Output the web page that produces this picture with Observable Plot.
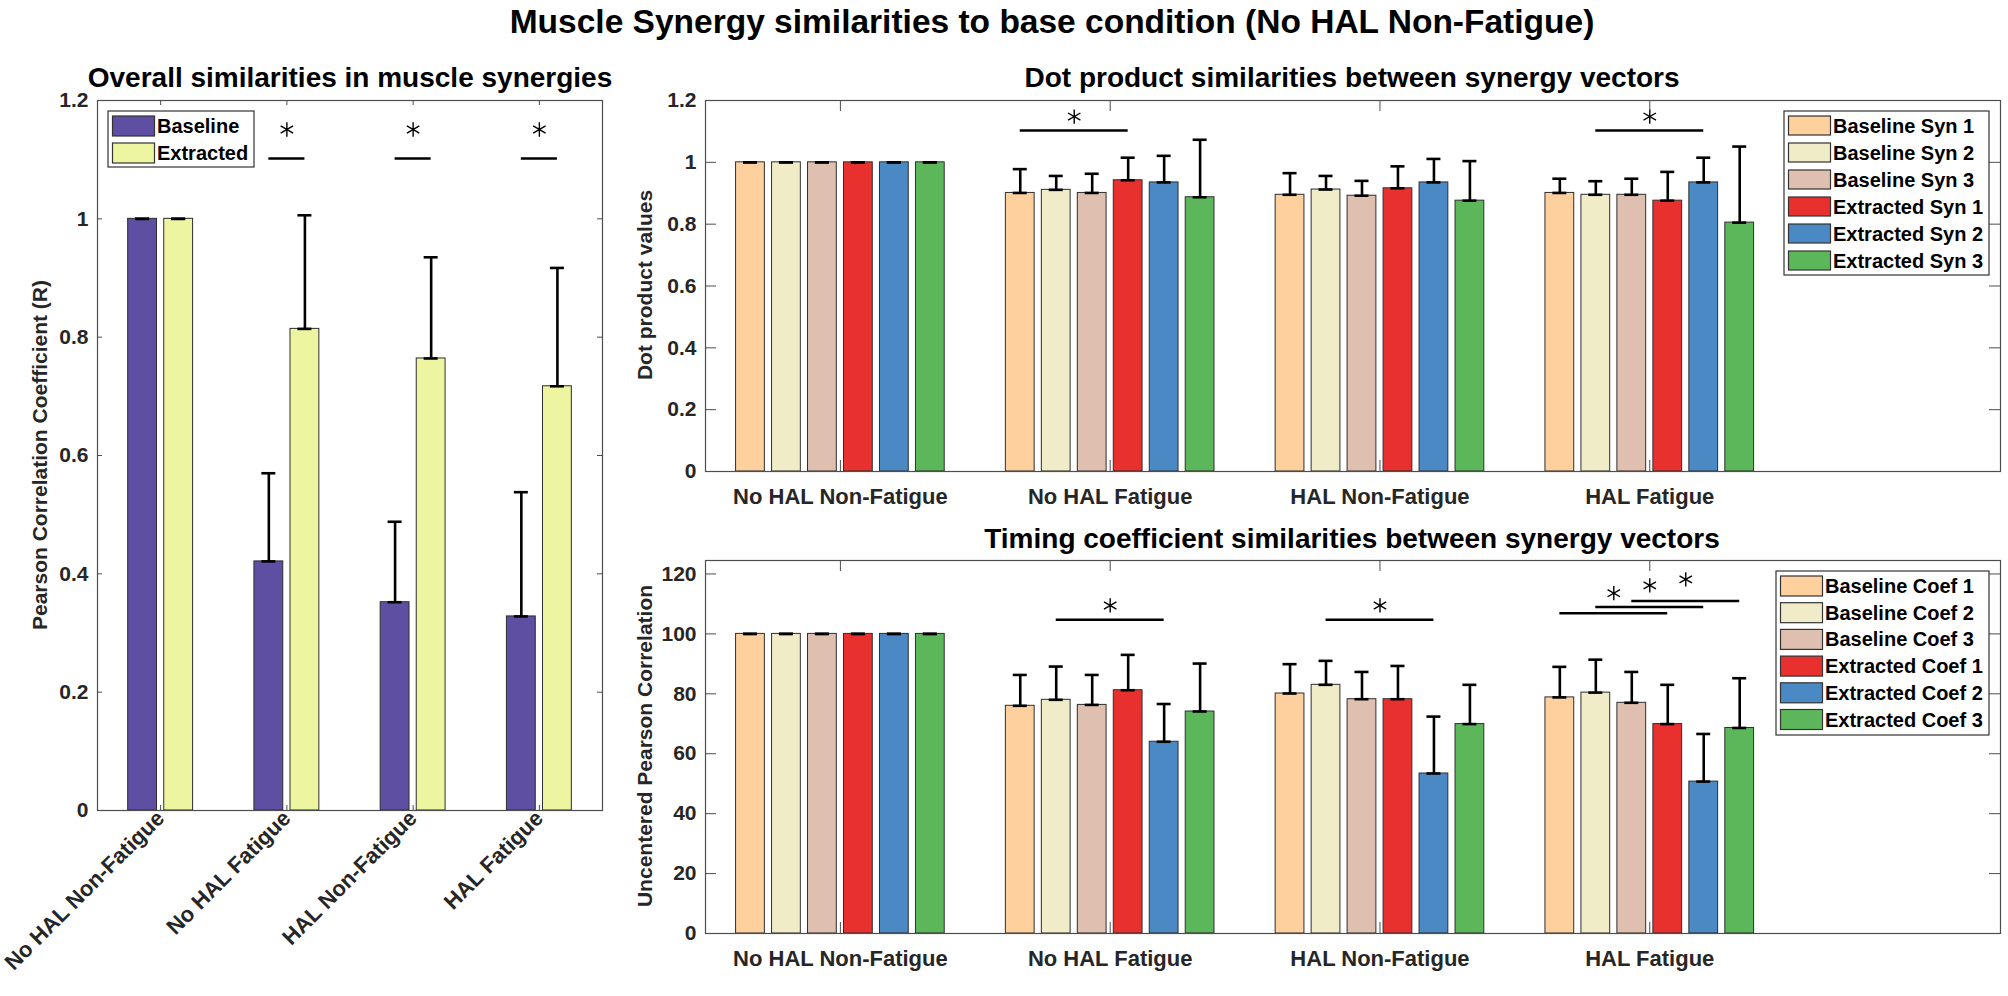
<!DOCTYPE html>
<html>
<head>
<meta charset="utf-8">
<script src="https://cdn.jsdelivr.net/npm/d3@7"></script>
<script src="https://cdn.jsdelivr.net/npm/@observablehq/plot@0.6"></script>
<style>
  body { margin: 0; background: #fff; }
  #fig { position: relative; width: 2008px; height: 996px; overflow: hidden; }
  .panel { position: absolute; }
  #overlay { position: absolute; left: 0; top: 0; }
</style>
</head>
<body>
<div id="fig">
  <div id="overall" class="panel" style="left:0px; top:0px;"></div>
  <div id="dot" class="panel" style="left:620px; top:0px;"></div>
  <div id="timing" class="panel" style="left:620px; top:520px;"></div>
</div>
<script>
const font = '"Liberation Sans", Arial, Helvetica, sans-serif';

// conditions (x categories, shared by all three panels)
const groups = ["No HAL Non-Fatigue", "No HAL Fatigue", "HAL Non-Fatigue", "HAL Fatigue"];

// left panel: overall similarity (Pearson R), mean and SD
const overallSeries = ["Baseline", "Extracted"];
const overallColors = ["#5e4fa2", "#edf5a0"];
const overallMean = [
  [1.0, 1.0],
  [0.421, 0.814],
  [0.352, 0.764],
  [0.328, 0.717]
];
const overallSD = [
  [0, 0],
  [0.149, 0.192],
  [0.136, 0.171],
  [0.210, 0.200]
];
// [group, fromBar, toBar, line value, star value]
const overallSig = [[1, 0, 1, 1.102, 1.151], [2, 0, 1, 1.102, 1.151], [3, 0, 1, 1.102, 1.151]];
const overallTicks = [0, 0.2, 0.4, 0.6, 0.8, 1, 1.2];

// top right: dot product similarities
const synColors = ["#fed09e", "#f1ecc8", "#dfc0b0", "#e8302f", "#4a89c4", "#5cb75a"];
const dotSeries = ["Baseline Syn 1", "Baseline Syn 2", "Baseline Syn 3", "Extracted Syn 1", "Extracted Syn 2", "Extracted Syn 3"];
const dotMean = [
  [1, 1, 1, 1, 1, 1],
  [0.901, 0.911, 0.901, 0.942, 0.935, 0.887],
  [0.895, 0.912, 0.892, 0.916, 0.935, 0.876],
  [0.901, 0.895, 0.895, 0.876, 0.935, 0.805]
];
const dotSD = [
  [0, 0, 0, 0, 0, 0],
  [0.077, 0.045, 0.062, 0.073, 0.086, 0.186],
  [0.070, 0.044, 0.048, 0.071, 0.076, 0.128],
  [0.046, 0.044, 0.052, 0.093, 0.080, 0.246]
];
const dotSig = [[1, 0, 3, 1.103, 1.148], [3, 1, 4, 1.103, 1.148]];
const dotTicks = [0, 0.2, 0.4, 0.6, 0.8, 1, 1.2];

// bottom right: timing coefficient similarities
const timingSeries = ["Baseline Coef 1", "Baseline Coef 2", "Baseline Coef 3", "Extracted Coef 1", "Extracted Coef 2", "Extracted Coef 3"];
const timingMean = [
  [100, 100, 100, 100, 100, 100],
  [76.0, 78.0, 76.3, 81.2, 64.0, 74.1],
  [80.1, 83.0, 78.2, 78.2, 53.4, 69.9],
  [78.8, 80.4, 77.0, 69.9, 50.7, 68.6]
];
const timingSD = [
  [0, 0, 0, 0, 0, 0],
  [10.3, 11.1, 10.0, 11.8, 12.6, 16.0],
  [9.8, 8.0, 9.1, 11.1, 19.0, 13.1],
  [10.2, 11.0, 10.3, 13.1, 15.9, 16.6]
];
const timingSig = [
  [1, 1, 4, 104.7, 109.5],
  [2, 1, 4, 104.7, 109.5],
  [3, 0, 3, 106.9, 113.6],
  [3, 1, 4, 109.0, 116.2],
  [3, 2, 5, 111.0, 118.2]
];
const timingTicks = [0, 20, 40, 60, 80, 100, 120];

// MATLAB-like grouped bar chart with upper error bars
function groupedBarPanel(o) {
  const n = o.series.length;
  const groupWidth = Math.min(0.8, n / (n + 1.5));
  const slot = groupWidth / n;
  const barW = 0.8 * slot;
  const xPos = (g, i) => g + 1 + (i - (n - 1) / 2) * slot;

  const pxX = (o.width - o.margin.left - o.margin.right) / (o.xDomain[1] - o.xDomain[0]);
  const pxY = (o.height - o.margin.top - o.margin.bottom) / (o.yDomain[1] - o.yDomain[0]);
  const cap = 7 / pxX;
  const tx = o.tickLen / pxX, ty = o.tickLen / pxY;

  const rows = o.values.flatMap((vals, g) => vals.map((v, i) => ({
    group: groups[g], series: o.series[i], x: xPos(g, i), value: v, sd: o.sd[g][i]
  })));
  const sigRows = o.sig.map(([g, a, b, lineY, starY]) => ({
    x1: xPos(g, a), x2: xPos(g, b), mid: (xPos(g, a) + xPos(g, b)) / 2, lineY, starY
  }));
  const groupTicks = groups.map((_, g) => g + 1);
  const [x0, x1] = o.xDomain, [y0, y1] = o.yDomain;

  return Plot.plot({
    width: o.width,
    height: o.height,
    marginLeft: o.margin.left,
    marginRight: o.margin.right,
    marginTop: o.margin.top,
    marginBottom: o.margin.bottom,
    style: {fontFamily: font, fontSize: "21px", fontWeight: "bold", color: "#262626", background: "transparent", overflow: "visible"},
    x: {domain: o.xDomain, axis: null},
    y: {domain: o.yDomain, axis: null},
    color: {domain: o.series, range: o.colors},
    marks: [
      Plot.rect(rows, {x1: d => d.x - barW / 2, x2: d => d.x + barW / 2, y1: 0, y2: "value", fill: "series", stroke: "#2e2e2e", strokeWidth: 1}),
      Plot.ruleX(rows, {x: "x", y1: "value", y2: d => d.value + d.sd, stroke: "black", strokeWidth: 2.6}),
      Plot.ruleY(rows, {y: d => d.value + d.sd, x1: d => d.x - cap, x2: d => d.x + cap, stroke: "black", strokeWidth: 2.6}),
      Plot.ruleY(rows, {y: "value", x1: d => d.x - cap, x2: d => d.x + cap, stroke: "black", strokeWidth: 2.6}),
      Plot.ruleY(sigRows, {y: "lineY", x1: "x1", x2: "x2", stroke: "black", strokeWidth: 2.6}),
      Plot.dot(sigRows, {x: "mid", y: "starY", symbol: "asterisk", r: 6.8, stroke: "black", strokeWidth: 1.4}),
      // inward ticks on all four sides
      Plot.ruleY(o.yTicks, {y: d => d, x1: x0, x2: x0 + tx, stroke: "#4d4d4d", strokeWidth: 1}),
      Plot.ruleY(o.yTicks, {y: d => d, x1: x1 - tx, x2: x1, stroke: "#4d4d4d", strokeWidth: 1}),
      Plot.ruleX(groupTicks, {x: d => d, y1: y0, y2: y0 + ty, stroke: "#4d4d4d", strokeWidth: 1}),
      Plot.ruleX(groupTicks, {x: d => d, y1: y1 - ty, y2: y1, stroke: "#4d4d4d", strokeWidth: 1}),
      Plot.frame({stroke: "#4d4d4d", strokeWidth: 1.2}),
      Plot.axisY({ticks: o.yTicks, tickSize: 0, tickPadding: 9, label: null, tickFormat: d => String(d)}),
      o.rotate
        ? Plot.axisX({ticks: groupTicks, tickSize: 0, tickPadding: 4, tickRotate: -45, label: null, fontSize: 22, tickFormat: d => groups[d - 1]})
        : Plot.axisX({ticks: groupTicks, tickSize: 0, tickPadding: 17, label: null, fontSize: 22, tickFormat: d => groups[d - 1]})
    ]
  });
}

document.getElementById("overall").appendChild(groupedBarPanel({
  series: overallSeries, colors: overallColors, values: overallMean, sd: overallSD, sig: overallSig,
  xDomain: [0.5, 4.5], yDomain: [0, 1.2], yTicks: overallTicks,
  width: 620, height: 996, margin: {left: 97, right: 18, top: 100, bottom: 186},
  rotate: true, tickLen: 5
}));

document.getElementById("dot").appendChild(groupedBarPanel({
  series: dotSeries, colors: synColors, values: dotMean, sd: dotSD, sig: dotSig,
  xDomain: [0.5, 5.3], yDomain: [0, 1.2], yTicks: dotTicks,
  width: 1388, height: 520, margin: {left: 85, right: 8, top: 100, bottom: 49},
  rotate: false, tickLen: 11
}));

document.getElementById("timing").appendChild(groupedBarPanel({
  series: timingSeries, colors: synColors, values: timingMean, sd: timingSD, sig: timingSig,
  xDomain: [0.5, 5.3], yDomain: [0, 124.5], yTicks: timingTicks,
  width: 1388, height: 476, margin: {left: 85, right: 8, top: 40, bottom: 63},
  rotate: false, tickLen: 11
}));

// titles, axis labels and legends on top
const overlay = d3.select("#fig").append("svg")
  .attr("id", "overlay")
  .attr("width", 2008)
  .attr("height", 996)
  .style("font-family", font)
  .style("font-weight", "bold");

function title(text, x, y, size) {
  overlay.append("text").attr("x", x).attr("y", y)
    .attr("text-anchor", "middle").attr("font-size", size).attr("fill", "black").text(text);
}
title("Muscle Synergy similarities to base condition (No HAL Non-Fatigue)", 1052, 33, 33.5);
title("Overall similarities in muscle synergies", 350, 87, 28);
title("Dot product similarities between synergy vectors", 1352, 87, 28);
title("Timing coefficient similarities between synergy vectors", 1352, 548, 28);

function yLabel(text, x, y) {
  overlay.append("text").attr("transform", `translate(${x},${y}) rotate(-90)`)
    .attr("text-anchor", "middle").attr("font-size", 21).attr("fill", "#262626").text(text);
}
yLabel("Pearson Correlation Coefficient (R)", 47, 455);
yLabel("Dot product values", 652, 285);
yLabel("Uncentered Pearson Correlation", 652, 746);

function legend(labels, colors, x, y, w, h, pitch, swH) {
  const g = overlay.append("g");
  g.append("rect").attr("x", x).attr("y", y).attr("width", w).attr("height", h)
    .attr("fill", "white").attr("stroke", "#333").attr("stroke-width", 1.2);
  labels.forEach((lab, i) => {
    const top = y + 5 + i * pitch;
    g.append("rect").attr("x", x + 4.5).attr("y", top).attr("width", 42).attr("height", swH)
      .attr("fill", colors[i]).attr("stroke", "#333").attr("stroke-width", 1.2);
    g.append("text").attr("x", x + 49).attr("y", top + swH / 2 + 7).attr("font-size", 20)
      .attr("fill", "black").text(lab);
  });
}
legend(overallSeries, overallColors, 108, 111, 146, 56, 27, 20);
legend(dotSeries, synColors, 1784, 111, 205, 164, 27, 19);
legend(timingSeries, synColors, 1776, 571, 213, 164, 26.7, 20);
</script>
</body>
</html>
